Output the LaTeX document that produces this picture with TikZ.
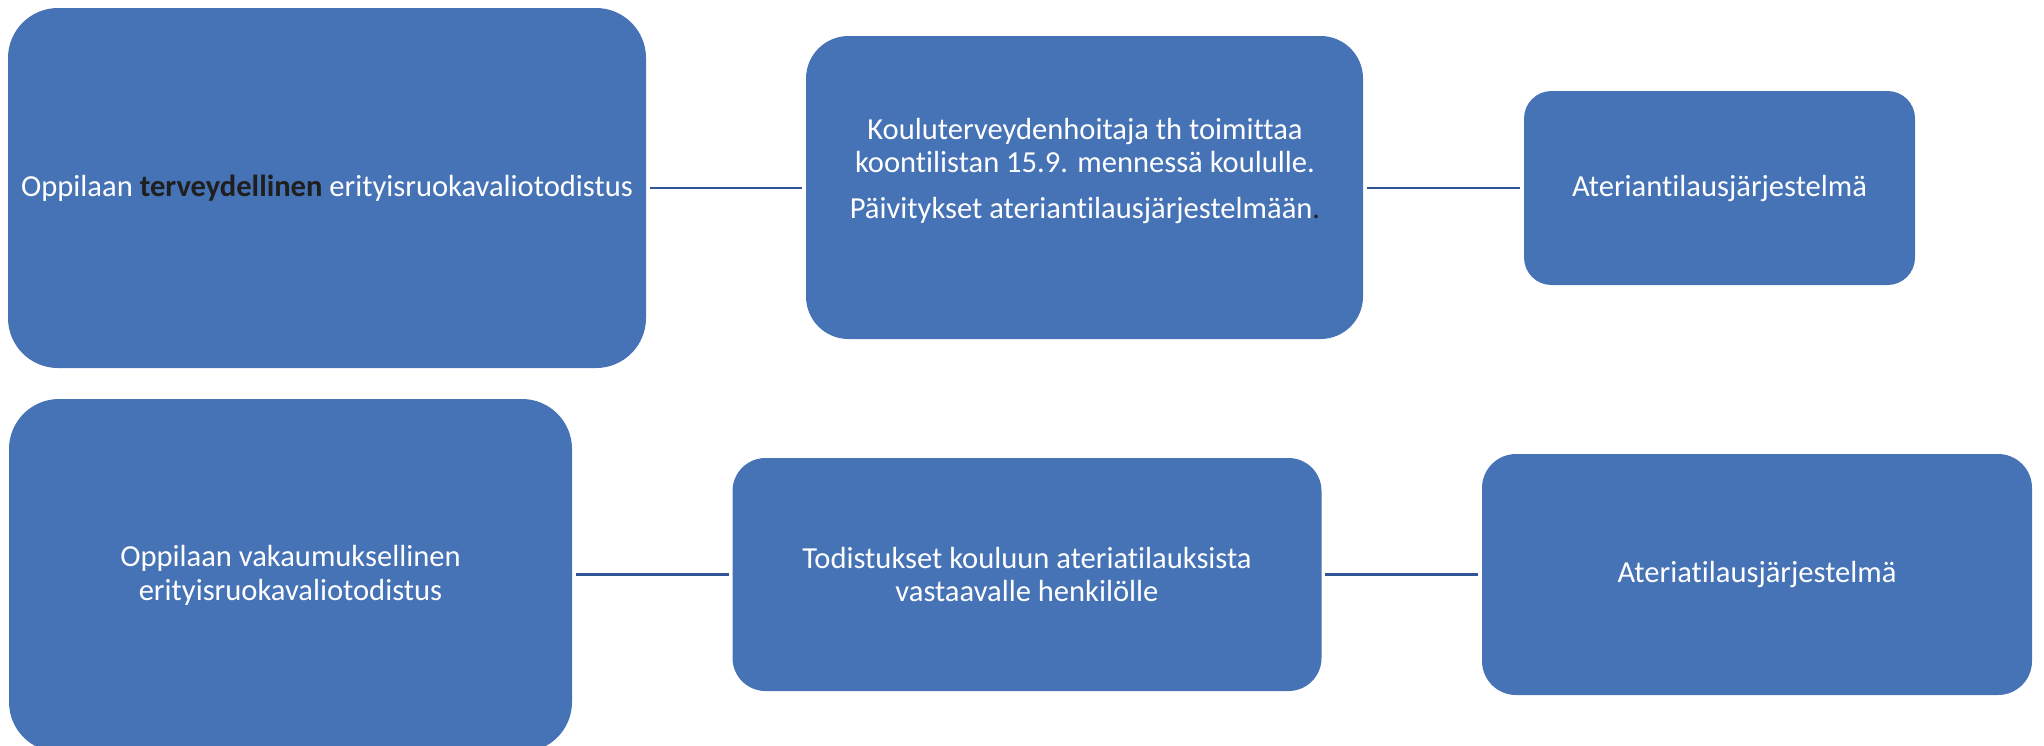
\documentclass[tikz,border=0pt]{standalone}
\usepackage{fontspec}
\setmainfont{Carlito}[Ligatures={NoCommon}]
\definecolor{boxblue}{HTML}{4672B6}
\definecolor{linkblue}{HTML}{2F5597}
\definecolor{darktext}{HTML}{1F1F1F}
\begin{document}
\begin{tikzpicture}[x=0.02cm,y=-0.02cm,
  flowbox/.style={rectangle,fill=boxblue,draw=none,inner sep=0pt,text=white,align=center,
    font=\fontsize{17.4}{19}\selectfont},
  boxtext/.style={inner sep=0pt,text=white,align=center,font=\fontsize{17.4}{19}\selectfont},
  conn/.style={draw=linkblue,line width=1.2pt}]
\useasboundingbox (0,0) rectangle (2044,745);
% row 1
\node[flowbox,minimum width=638*0.02cm,minimum height=360*0.02cm,rounded corners=1cm] (b1) at (327,188)
  {Oppilaan \textbf{\color{darktext}terveydellinen} erityisruokavaliotodistus};
\node[flowbox,minimum width=557*0.02cm,minimum height=303*0.02cm,rounded corners=0.85cm] (b2) at (1084.5,187.5) {};
\node[boxtext] (b2t) at (1085,171)
  {Kouluterveydenhoitaja th toimittaa\\koontilistan 15.9. mennessä koululle.\\[7pt]Päivitykset ateriantilausjärjestelmään{\color{darktext}.}};
\node[flowbox,minimum width=391*0.02cm,minimum height=194*0.02cm,rounded corners=0.55cm] (b3) at (1719.5,188)
  {Ateriantilausjärjestelmä};
% row 2
\node[flowbox,minimum width=563*0.02cm,minimum height=353*0.02cm,rounded corners=1cm] (b4) at (290.5,575.5)
  {Oppilaan vakaumuksellinen\\erityisruokavaliotodistus};
\node[flowbox,minimum width=589*0.02cm,minimum height=233*0.02cm,rounded corners=0.66cm] (b5) at (1027,574.5)
  {Todistukset kouluun ateriatilauksista\\vastaavalle henkilölle};
\node[flowbox,minimum width=550*0.02cm,minimum height=241*0.02cm,rounded corners=0.68cm] (b6) at (1757,574.5)
  {Ateriatilausjärjestelmä};
% connectors
\draw[conn] ([xshift=2pt]b1.east) -- ([xshift=-2pt]b1.east -| b2.west);
\draw[conn] ([xshift=2pt]b2.east |- b3.west) -- ([xshift=-2pt]b3.west);
\draw[conn] ([xshift=2pt]b4.east |- b5.west) -- ([xshift=-2pt]b5.west);
\draw[conn] ([xshift=2pt]b5.east) -- ([xshift=-2pt]b5.east -| b6.west);
\end{tikzpicture}
\end{document}
